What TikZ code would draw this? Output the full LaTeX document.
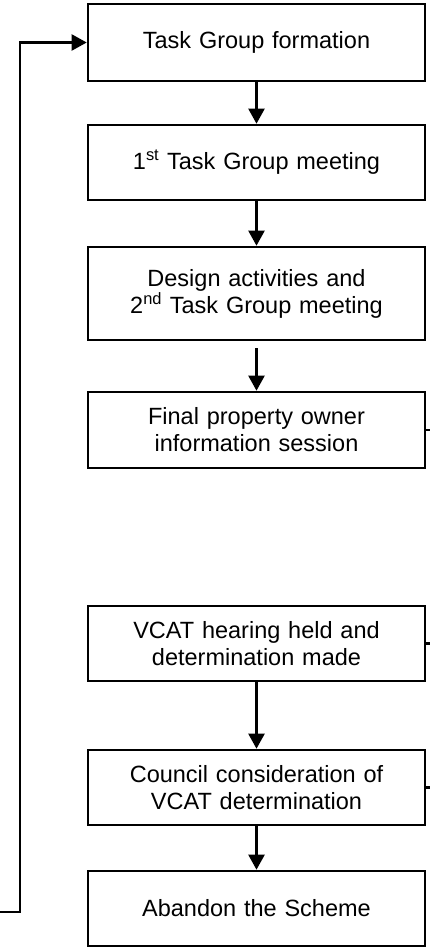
\documentclass[tikz,border=0pt]{standalone}
\usepackage{fontspec}
\setmainfont{Liberation Sans}
\usetikzlibrary{arrows.meta}

\tikzset{
  stagebox/.style={draw,line width=2.6pt,minimum width=337pt,inner sep=0pt,
    text width=330pt,align=center,font=\fontsize{23.5}{27}\selectfont},
  flow/.style={line width=2.2pt,-{Triangle[width=16pt,length=15pt]}},
  stub/.style={line width=2.2pt}
}

\begin{document}
\begin{tikzpicture}[x=1pt,y=-1pt]
    \useasboundingbox (0,0) rectangle (429,947);
    % Stages
    \node[stagebox,minimum height=77pt] (formation) at (256.5,42.5) {Task Group formation};
    \node[stagebox,minimum height=75pt] (meeting1) at (256.5,162.5) {1\textsuperscript{st} Task Group meeting};
    \node[stagebox,minimum height=93pt] (design) at (256.5,293.5) {Design activities and\\2\textsuperscript{nd} Task Group meeting};
    \node[stagebox,minimum height=76pt] (owners) at (256.5,430) {Final property owner\\information session};
    \node[stagebox,minimum height=75pt] (hearing) at (256.5,643.5) {VCAT hearing held and\\determination made};
    \node[stagebox,minimum height=75pt] (council) at (256.5,787.5) {Council consideration of\\VCAT determination};
    \node[stagebox,minimum height=75pt] (abandon) at (256.5,908.5) {Abandon the Scheme};
    % Downward arrows
    \draw[flow] (formation) -- (meeting1);
    \draw[flow] (meeting1) -- (design);
    \draw[flow] ([yshift=-7pt]design.south) -- (owners);
    \draw[flow] (hearing) -- (council);
    \draw[flow] (council) -- (abandon);
    % Stubs leaving on the right
    \coordinate (ownersout) at (432,430);
    \coordinate (hearingout) at (432,643.5);
    \coordinate (councilout) at (432,787.5);
    \draw[stub] (owners.east) -- (ownersout);
    \draw[stub] (hearing.east) -- (hearingout);
    \draw[stub] (council.east) -- (councilout);
    % Loop back to the start
    \coordinate (loopin) at (-3,912);
    \coordinate (loopcorner) at (20,912);
    \draw[flow] (loopin) -- (loopcorner) |- (formation.west);
\end{tikzpicture}
\end{document}
